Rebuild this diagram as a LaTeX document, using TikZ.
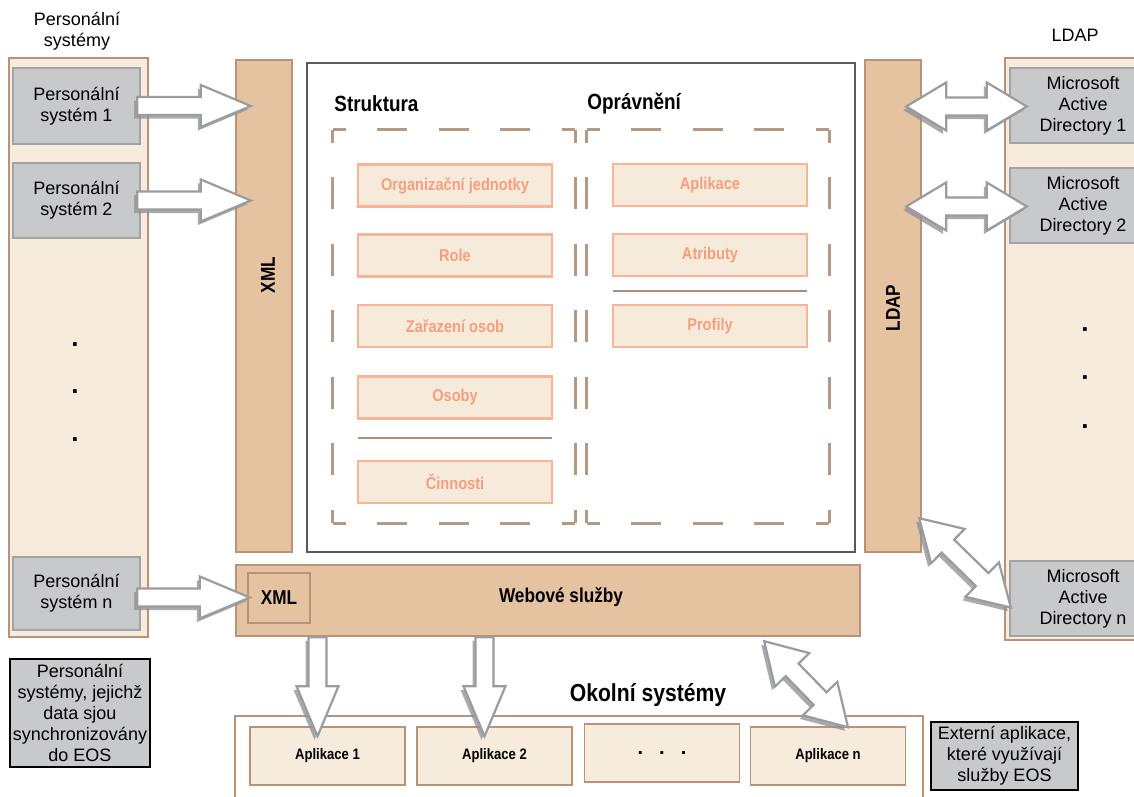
\documentclass[tikz,border=0pt]{standalone}
\usepackage{fontspec}
\setmainfont{Liberation Sans}
\newfontfamily\narrowsans[FakeStretch=0.86]{Liberation Sans}
\usetikzlibrary{calc,shadows,positioning}

\definecolor{tanfill}{HTML}{E5C3A0}
\definecolor{barborder}{HTML}{B8937A}
\definecolor{beige}{HTML}{F7EBDB}
\definecolor{grayfill}{HTML}{C8C9CB}
\definecolor{grayborder}{HTML}{A2A3A6}
\definecolor{salmon}{HTML}{F9B497}
\definecolor{salmontext}{HTML}{F4A07F}
\definecolor{itemfill}{HTML}{F6EADB}
\definecolor{dashcol}{HTML}{B49A85}
\definecolor{sepcol}{HTML}{A88E7C}
\definecolor{mainborder}{HTML}{5A5A5A}
\definecolor{arrowgray}{HTML}{9A9C9F}
\definecolor{shadowgray}{HTML}{8E9093}

\tikzset{
  every node/.style={font=\fontsize{9}{10.5}\selectfont, inner sep=0pt},
  column/.style={draw=barborder, fill=beige, line width=1pt},
  bar/.style={draw=barborder, fill=tanfill, line width=1.2pt},
  barlabel/.style={font=\narrowsans\bfseries\fontsize{10}{12}\selectfont},
  sysbox/.style={draw=grayborder, fill=grayfill, line width=1.2pt, align=center},
  mainbox/.style={draw=mainborder, fill=white, line width=1.1pt},
  hdash/.style={draw=dashcol, line width=1.2pt, dash pattern=on 15pt off 15.75pt, dash phase=8.5pt},
  vdash/.style={draw=dashcol, line width=1.2pt, dash pattern=on 16pt off 17.25pt, dash phase=9.5pt},
  title/.style={anchor=west, font=\narrowsans\bfseries\fontsize{11}{13}\selectfont},
  item/.style={draw=salmon, fill=itemfill, line width=1.2pt, text=salmontext,
    minimum width=97pt, minimum height=21pt, font=\narrowsans\bfseries\fontsize{8.5}{10}\selectfont},
  sepline/.style={draw=sepcol, line width=1.1pt},
  appbox/.style={draw=barborder, fill=beige, line width=0.8pt, minimum width=77.5pt, minimum height=29pt,
    font=\narrowsans\bfseries\fontsize{7.6}{9}\selectfont},
  legend/.style={draw=black, fill=grayfill, line width=1.1pt, align=center},
  dotmark/.style={font=\bfseries\fontsize{13}{13}\selectfont},
  blockarrow/.style={draw=arrowgray, fill=white, line width=1.1pt, line join=miter,
    drop shadow={shadow xshift=-1.5pt, shadow yshift=-1.8pt, fill=shadowgray, opacity=.75}}
}

% block arrow sizes
\def\shaftw{4.5pt}
\def\headw{10.5pt}
\def\headlen{25pt}
\def\dshaftw{4.5pt}
\def\dheadw{12pt}
\def\dheadlen{20pt}

\newcommand{\singlearrow}[2]{%
  \coordinate (sa-s) at #1;
  \coordinate (sa-t) at #2;
  \coordinate (sa-h) at ($(sa-t)!\headlen!(sa-s)$);
  \draw[blockarrow] ($(sa-s)!\shaftw!90:(sa-t)$) -- ($(sa-h)!\shaftw!90:(sa-t)$)
    -- ($(sa-h)!\headw!90:(sa-t)$) -- (sa-t) -- ($(sa-h)!\headw!-90:(sa-t)$)
    -- ($(sa-h)!\shaftw!-90:(sa-t)$) -- ($(sa-s)!\shaftw!-90:(sa-t)$) -- cycle;}

\newcommand{\doublearrow}[2]{%
  \coordinate (da-s) at #1;
  \coordinate (da-t) at #2;
  \coordinate (da-a) at ($(da-s)!\dheadlen!(da-t)$);
  \coordinate (da-b) at ($(da-t)!\dheadlen!(da-s)$);
  \draw[blockarrow] (da-s) -- ($(da-a)!\dheadw!-90:(da-t)$) -- ($(da-a)!\dshaftw!-90:(da-t)$)
    -- ($(da-b)!\dshaftw!90:(da-s)$) -- ($(da-b)!\dheadw!90:(da-s)$) -- (da-t)
    -- ($(da-b)!\dheadw!-90:(da-s)$) -- ($(da-b)!\dshaftw!-90:(da-s)$)
    -- ($(da-a)!\dshaftw!90:(da-t)$) -- ($(da-a)!\dheadw!90:(da-t)$) -- cycle;}

\begin{document}
\begin{tikzpicture}[x=0.5pt, y=-0.5pt]
  \useasboundingbox[fill=white] (0,0) rectangle (1134,797);

  % personal systems
  \node[align=center] (pshead) at (77,31) {Personální\\systémy};
  \node[column, minimum width=69.5pt, minimum height=289.5pt] (psys) at (78.5,347.5) {};
  \node[sysbox, minimum width=63.5pt, minimum height=38pt] (ps1) at (76.5,106) {Personální\\systém 1};
  \node[sysbox, minimum width=63.5pt, minimum height=37.5pt] (ps2) at (76.5,200.5) {Personální\\systém 2};
  \node[sysbox, minimum width=63.5pt, minimum height=36.5pt] (psn) at (76.5,593.5) {Personální\\systém n};
  \foreach \y [count=\i] in {345,392,440}
    \node[dotmark] (psdot\i) at (75,\y) {.};

  % XML bar
  \node[bar, minimum width=28pt, minimum height=246pt] (xmlbar) at (264,306) {};
  \node[barlabel, rotate=90] (xmllabel) at (268,275) {XML};

  % core
  \node[mainbox, minimum width=274pt, minimum height=244.5pt] (core) at (581,307.5) {};
  \node[title] (struktura) at (334,104) {Struktura};
  \node[title] (opravneni) at (587,104) {Oprávnění};
  \node[minimum width=121pt, minimum height=196.5pt] (structgrp) at (454,326.5) {};
  \node[minimum width=121pt, minimum height=196.5pt] (permgrp) at (708,326.5) {};
  \foreach \g in {structgrp,permgrp} {
    \draw[hdash] (\g.north west) -- (\g.north east);
    \draw[hdash] (\g.south west) -- (\g.south east);
    \draw[vdash] (\g.north west) -- (\g.south west);
    \draw[vdash] (\g.north east) -- (\g.south east);
  }

  \node[item] (orgj) at (455,185.5) {Organizační jednotky};
  \node[item] (role) at (455,255.5) {Role};
  \node[item] (zaraz) at (455,326) {Zařazení osob};
  \node[item] (osoby) at (455,397.5) {Osoby};
  \draw[sepline] (358,438) -- (552,438);
  \node[item] (cinn) at (455,482) {Činnosti};

  \node[item] (aplik) at (710,185) {Aplikace};
  \node[item] (atrib) at (710,255) {Atributy};
  \draw[sepline] (613,291) -- (807,291);
  \node[item] (profil) at (710,326) {Profily};

  % LDAP bar and directories
  \node[bar, minimum width=28pt, minimum height=246pt] (ldapbar) at (893,306) {};
  \node[barlabel, rotate=90] (ldaplabel) at (893,308) {LDAP};
  \node (adhead) at (1075,35) {LDAP};
  \node[column, minimum width=67.5pt, minimum height=291pt] (adcol) at (1072.5,349) {};
  \node[sysbox, minimum width=73pt, minimum height=37.5pt] (ad1) at (1083,105.5) {Microsoft\\Active\\Directory 1};
  \node[sysbox, minimum width=73pt, minimum height=37.5pt] (ad2) at (1083,205.5) {Microsoft\\Active\\Directory 2};
  \node[sysbox, minimum width=73pt, minimum height=37.5pt] (adn) at (1083,598.5) {Microsoft\\Active\\Directory n};
  \foreach \y [count=\i] in {330,378,427}
    \node[dotmark] (addot\i) at (1085,\y) {.};

  % web services
  \node[bar, minimum width=312pt, minimum height=35.5pt] (web) at (548,600.5) {};
  \node[barlabel] (weblabel) at (561,597) {Webové služby};
  \node[bar, minimum width=31pt, minimum height=25pt, barlabel] (webxml) at (279,598) {XML};

  % surrounding systems
  \node[font=\narrowsans\bfseries\fontsize{12.3}{14}\selectfont] (okolni) at (648,695) {Okolní systémy};
  \node[draw=barborder, fill=white, line width=1pt, minimum width=344pt, minimum height=44.5pt] (env) at (579,760.5) {};
  \node[appbox] (app1) at (327.5,756) {Aplikace 1};
  \node[appbox] (app2) at (494.5,756) {Aplikace 2};
  \node[appbox, font=\bfseries\fontsize{10}{10}\selectfont] (appdots) at (662,753) {.\hspace{8pt}.\hspace{8pt}.};
  \node[appbox] (appn) at (828,756) {Aplikace n};

  % legends
  \node[legend, minimum width=70pt, minimum height=54pt] (pslegend) at (80,713)
    {Personální\\systémy, jejichž\\data sjou\\synchronizovány\\do EOS};
  \node[legend, minimum width=73.5pt, minimum height=34pt] (extlegend) at (1004.5,756)
    {Externí aplikace,\\které využívají\\služby EOS};

  % arrows
  \singlearrow{($(ps1.east)+(-4,0)$)}{($(ps1.east -| xmlbar.west)+(16,0)$)}
  \singlearrow{($(ps2.east)+(-4,0)$)}{($(ps2.east -| xmlbar.west)+(16,0)$)}
  \singlearrow{($(psn.east)+(-4,4)$)}{($(psn.east -| webxml.west)+(3,4)$)}
  \singlearrow{($(web.south -| app1.north)+(-10,0)$)}{($(app1.north)+(-10,10)$)}
  \singlearrow{($(web.south -| app2.north)+(-10,0)$)}{($(app2.north)+(-10,10)$)}
  \doublearrow{($(ad1.west -| ldapbar.east)+(-16,1)$)}{($(ad1.west)+(18,1)$)}
  \doublearrow{($(ad2.west -| ldapbar.east)+(-16,1)$)}{($(ad2.west)+(18,1)$)}
  \doublearrow{($(ldapbar.south east)+(-3,-35)$)}{($(adn.west)+(2,9)$)}
  \doublearrow{($(web.south east)+(-97,4)$)}{($(appn.north)+(20,1)$)}
\end{tikzpicture}
\end{document}
